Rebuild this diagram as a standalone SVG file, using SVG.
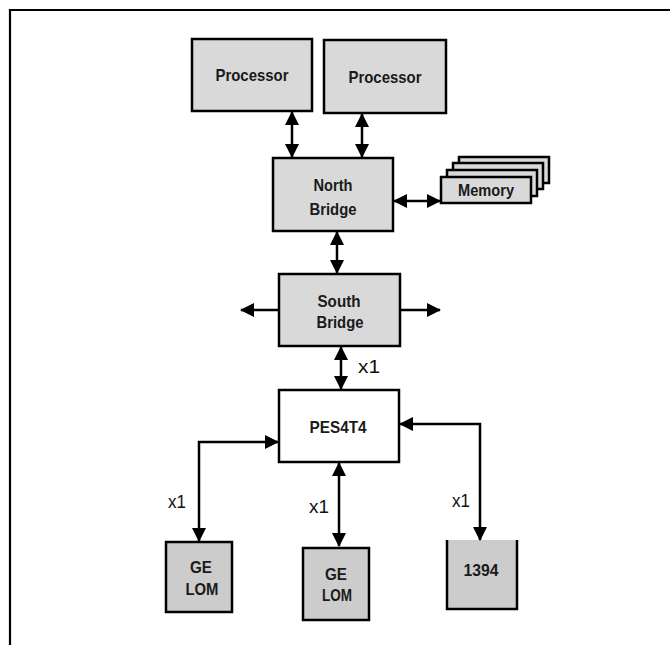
<svg xmlns="http://www.w3.org/2000/svg" width="670" height="645" viewBox="0 0 670 645">
<defs>
<marker id="ah" viewBox="0 0 14 14" markerWidth="14" markerHeight="14" refX="13" refY="7" orient="auto-start-reverse" markerUnits="userSpaceOnUse">
<path d="M0,0 L14,7 L0,14 z" fill="#000"/>
</marker>
<style>
.box{fill:#d9d9d9;stroke:#000;stroke-width:2.5}
.gbox{fill:#cccccc;stroke:#000;stroke-width:2.5}
.wbox{fill:#fff;stroke:#000;stroke-width:2.5}
.lbl{font-family:"Liberation Sans",Arial,sans-serif;font-weight:bold;font-size:17px;fill:#1a1a1a;text-anchor:middle}
.sm{font-size:14px}
.x1{font-family:"Liberation Sans",Arial,sans-serif;font-size:18px;fill:#111}
.c{fill:none;stroke:#000;stroke-width:2.5}
.a2{marker-start:url(#ah);marker-end:url(#ah)}
.a1{marker-end:url(#ah)}
</style>
</defs>
<rect width="670" height="645" fill="#fff"/>
<path d="M10,645 L10,10 L670,10" fill="none" stroke="#000" stroke-width="2.2"/>
<g id="proc1"><rect class="box" x="192" y="39" width="120" height="72"/><text class="lbl" x="252" y="81" textLength="73" lengthAdjust="spacingAndGlyphs">Processor</text></g>
<g id="proc2"><rect class="box" x="324" y="40" width="122" height="73"/><text class="lbl" x="385" y="83" textLength="73" lengthAdjust="spacingAndGlyphs">Processor</text></g>
<g id="northbridge"><rect class="box" x="273" y="158" width="120" height="73"/><text class="lbl" x="333" y="191" textLength="39" lengthAdjust="spacingAndGlyphs">North</text><text class="lbl" x="333" y="215" textLength="47" lengthAdjust="spacingAndGlyphs">Bridge</text></g>
<g id="memory">
<rect class="box" x="459" y="157" width="90" height="26"/>
<rect class="box" x="453" y="163" width="90" height="26"/>
<rect class="box" x="447" y="170" width="90" height="26"/>
<rect class="box" x="441" y="177" width="90" height="26"/>
<text class="lbl" x="486" y="196" font-size="16" textLength="56" lengthAdjust="spacingAndGlyphs">Memory</text></g>
<g id="southbridge"><rect class="box" x="279" y="274" width="121" height="72"/><text class="lbl" x="339" y="307" textLength="43" lengthAdjust="spacingAndGlyphs">South</text><text class="lbl" x="340" y="328" textLength="47" lengthAdjust="spacingAndGlyphs">Bridge</text></g>
<g id="pes4t4"><rect class="wbox" x="279" y="390" width="120" height="72"/><text class="lbl" x="338" y="433" font-size="13" textLength="57" lengthAdjust="spacingAndGlyphs">PES4T4</text></g>
<g id="gelom1"><rect class="gbox" x="166" y="542" width="66" height="70"/><text class="lbl" x="201" y="573" textLength="22" lengthAdjust="spacingAndGlyphs">GE</text><text class="lbl" x="202" y="595" textLength="33" lengthAdjust="spacingAndGlyphs">LOM</text></g>
<g id="gelom2"><rect class="gbox" x="303" y="548" width="66" height="72"/><text class="lbl" x="336" y="580" textLength="22" lengthAdjust="spacingAndGlyphs">GE</text><text class="lbl" x="337" y="601" textLength="30" lengthAdjust="spacingAndGlyphs">LOM</text></g>
<g id="n1394"><rect x="447" y="540" width="70" height="69" fill="#cccccc"/><path d="M447,540 L447,609 L517,609 L517,540" fill="none" stroke="#000" stroke-width="2.5"/><text class="lbl" x="481" y="576" font-size="14" textLength="35" lengthAdjust="spacingAndGlyphs">1394</text></g>
<g id="connectors">
<line class="c a2" x1="292" y1="112" x2="292" y2="157"/>
<line class="c a2" x1="362" y1="114" x2="362" y2="157"/>
<line class="c a2" x1="394" y1="201" x2="440" y2="201"/>
<line class="c a2" x1="337" y1="232" x2="337" y2="273"/>
<line class="c a1" x1="279" y1="310" x2="241" y2="310"/>
<line class="c a1" x1="400" y1="310" x2="440" y2="310"/>
<line class="c a2" x1="341" y1="347" x2="341" y2="389"/>
<path class="c a2" d="M199,541 L199,442 L278,442"/>
<line class="c a2" x1="339" y1="463" x2="339" y2="546"/>
<path class="c a2" d="M400,424 L480,424 L480,540"/>
</g>
<g id="labels">
<text class="x1" x="358" y="373" textLength="22" lengthAdjust="spacingAndGlyphs">x1</text>
<text class="x1" x="168" y="508" textLength="18" lengthAdjust="spacingAndGlyphs">x1</text>
<text class="x1" x="309" y="513" textLength="20" lengthAdjust="spacingAndGlyphs">x1</text>
<text class="x1" x="452" y="507" textLength="18" lengthAdjust="spacingAndGlyphs">x1</text>
</g>
</svg>
